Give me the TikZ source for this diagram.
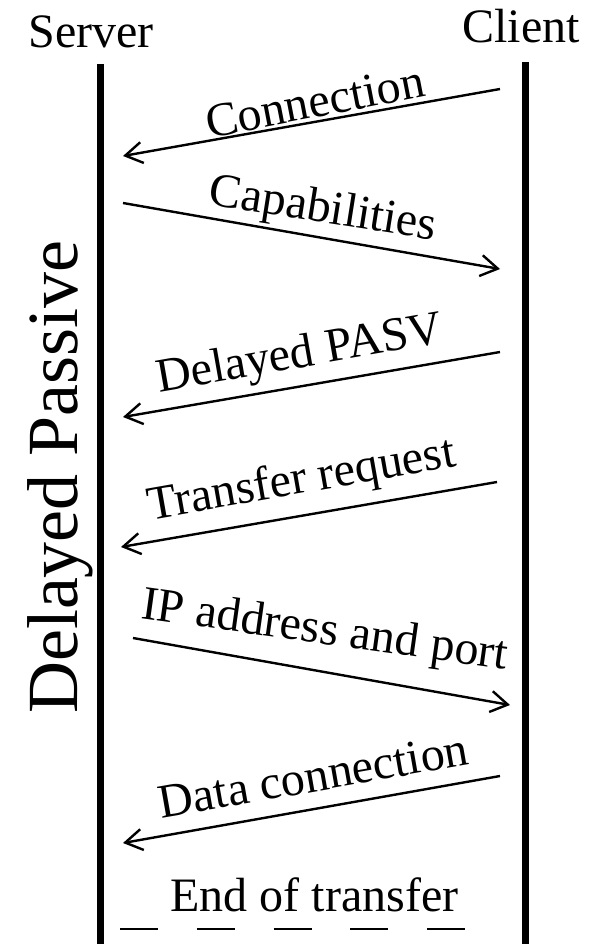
\documentclass[tikz,border=0pt]{standalone}
\usepackage{fontspec}
\setmainfont{Liberation Serif}
\usetikzlibrary{arrows.meta}
\begin{document}
\begin{tikzpicture}[x=1pt,y=-1pt,
  lifeline/.style={line width=7pt},
  msg/.style={line width=2.4pt,-{Straight Barb[length=17pt,width=21pt]}},
  lbl/.style={font=\fontsize{48}{57}\selectfont,inner sep=0pt,anchor=base},
  modelbl/.style={font=\fontsize{72}{86}\selectfont,inner sep=0pt,anchor=base,rotate=90},
  endmark/.style={line width=2.7pt,dash pattern=on 38pt off 38.75pt}]
\useasboundingbox (0,0) rectangle (595,944);

% participants
\node[lbl] (server) at (91,48) {Server};
\node[lbl] (client) at (521,43) {Client};
\coordinate (s top) at (100.5,64);
\coordinate (s bot) at (100.5,944);
\coordinate (c top) at (525,62);
\coordinate (c bot) at (525,944);
\draw[lifeline] (s top) -- (s bot);
\draw[lifeline] (c top) -- (c bot);

% mode label
\node[modelbl] (mode) at (77,477) {Delayed Passive};

% message end points
\coordinate (m1a) at (500,89);  \coordinate (m1b) at (123,156);
\coordinate (m2a) at (123,203); \coordinate (m2b) at (500,269);
\coordinate (m3a) at (500,352); \coordinate (m3b) at (123,417);
\coordinate (m4a) at (497,482); \coordinate (m4b) at (121,547);
\coordinate (m5a) at (133,638); \coordinate (m5b) at (510,705);
\coordinate (m6a) at (500,776); \coordinate (m6b) at (123,843);

\draw[msg] (m1a) -- (m1b);
\draw[msg] (m2a) -- (m2b);
\draw[msg] (m3a) -- (m3b);
\draw[msg] (m4a) -- (m4b);
\draw[msg] (m5a) -- (m5b);
\draw[msg] (m6a) -- (m6b);

% message labels
\node[lbl,rotate=11] (l1) at (318,117) {Connection};
\node[lbl,rotate=-9] (l2) at (321,222) {Capabilities};
\node[lbl,rotate=10] (l3) at (302,367.5) {Delayed PASV};
\node[lbl,rotate=10] (l4) at (304,493) {Transfer request};
\node[lbl,rotate=-8] (l5) at (323,644) {IP address and port};
\node[lbl,rotate=10] (l6) at (316,791.5) {Data connection};

% end of transfer
\node[lbl] (eot) at (314.5,911) {End of transfer};
\coordinate (dash start) at (120,929);
\coordinate (dash end) at (465,929);
\draw[endmark] (dash start) -- (dash end);
\end{tikzpicture}
\end{document}
